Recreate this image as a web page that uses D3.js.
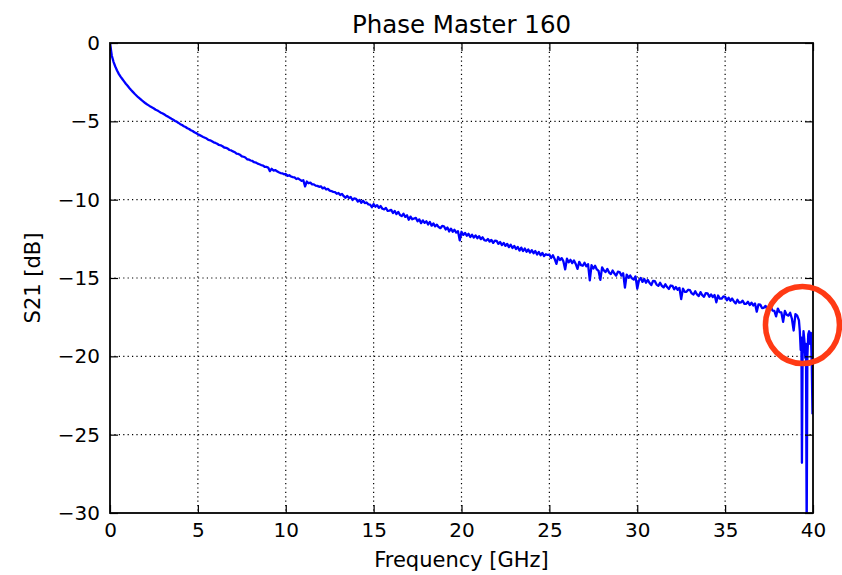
<!DOCTYPE html>
<html>
<head>
<meta charset="utf-8">
<script src="https://cdn.jsdelivr.net/npm/d3@7"></script>
<style>
  html, body { margin: 0; padding: 0; background: #fff; }
  svg { display: block; font-family: "DejaVu Sans", sans-serif; }
</style>
</head>
<body>
<svg id="chart" width="842" height="575"></svg>
<script>
// Insertion loss sweep of the Phase Master 160 cable, 0–40 GHz
const chartTitle = "Phase Master 160";
const xLabel = "Frequency [GHz]";
const yLabel = "S21 [dB]";
const xTicks = [0, 5, 10, 15, 20, 25, 30, 35, 40];
const yTicks = [0, -5, -10, -15, -20, -25, -30];

// main sweep, 0.0 … 39.2 GHz in 0.1 GHz steps (dB)
const sweepStepGHz = 0.1;
const s21Sweep = [
  0, -0.80, -1.20, -1.50, -1.75, -1.97, -2.15, -2.30, -2.45, -2.60,
  -2.73, -2.87, -3.00, -3.12, -3.24, -3.35, -3.46, -3.55, -3.65, -3.74,
  -3.83, -3.91, -3.98, -4.06, -4.12, -4.18, -4.26, -4.31, -4.38, -4.45,
  -4.50, -4.57, -4.64, -4.70, -4.77, -4.84, -4.90, -4.98, -5.03, -5.10,
  -5.18, -5.24, -5.31, -5.36, -5.44, -5.49, -5.57, -5.62, -5.70, -5.75,
  -5.82, -5.88, -5.94, -6.00, -6.05, -6.10, -6.19, -6.21, -6.27, -6.34,
  -6.38, -6.43, -6.51, -6.53, -6.59, -6.67, -6.69, -6.74, -6.83, -6.86,
  -6.92, -6.97, -7.06, -7.08, -7.14, -7.23, -7.26, -7.31, -7.42, -7.44,
  -7.50, -7.53, -7.61, -7.63, -7.70, -7.74, -7.79, -7.82, -7.90, -7.91,
  -7.95, -8.18, -8.03, -8.14, -8.11, -8.18, -8.25, -8.30, -8.32, -8.38,
  -8.36, -8.48, -8.44, -8.52, -8.56, -8.58, -8.68, -8.64, -8.72, -8.80,
  -8.76, -9.15, -8.84, -8.95, -8.91, -9.02, -9.02, -9.10, -9.12, -9.18,
  -9.15, -9.28, -9.22, -9.35, -9.31, -9.42, -9.45, -9.50, -9.52, -9.62,
  -9.57, -9.70, -9.63, -9.78, -9.88, -9.76, -9.90, -9.83, -10.02, -9.92,
  -9.95, -10.12, -10.02, -10.20, -10.07, -10.22, -10.18, -10.30, -10.32, -10.48,
  -10.28, -10.45, -10.35, -10.52, -10.41, -10.58, -10.62, -10.53, -10.72, -10.70,
  -10.65, -10.85, -10.72, -10.92, -10.78, -10.98, -11.05, -10.90, -11.10, -11.00,
  -11.28, -11.08, -11.25, -11.20, -11.16, -11.38, -11.26, -11.50, -11.32, -11.48,
  -11.38, -11.58, -11.42, -11.66, -11.52, -11.70, -11.60, -11.75, -11.82, -11.68,
  -11.70, -11.90, -11.78, -12.03, -11.85, -12.05, -11.92, -12.10, -12.01, -12.60,
  -12.05, -12.25, -12.12, -12.30, -12.18, -12.38, -12.24, -12.42, -12.28, -12.46,
  -12.33, -12.52, -12.40, -12.58, -12.62, -12.51, -12.68, -12.57, -12.76, -12.62,
  -12.63, -12.82, -12.70, -12.90, -12.76, -12.95, -12.82, -13.03, -12.88, -13.08,
  -12.95, -13.15, -13.02, -13.25, -13.06, -13.28, -13.12, -13.32, -13.18, -13.38,
  -13.22, -13.42, -13.28, -13.50, -13.34, -13.55, -13.40, -13.60, -13.48, -13.53,
  -13.50, -13.72, -13.55, -13.78, -14.10, -13.66, -13.85, -13.73, -13.94, -14.45,
  -13.77, -14.00, -13.84, -14.05, -13.88, -14.10, -14.42, -13.97, -14.18, -14.22,
  -14.03, -14.25, -14.12, -15.15, -14.18, -14.40, -14.22, -14.45, -14.55, -15.12,
  -14.32, -14.52, -14.62, -14.42, -14.65, -14.75, -14.52, -14.72, -14.85, -14.60,
  -14.62, -14.85, -14.70, -15.62, -14.78, -14.98, -14.84, -15.02, -15.10, -14.90,
  -15.68, -15.15, -15.00, -15.25, -15.06, -15.30, -15.12, -15.32, -15.45, -15.18,
  -15.20, -15.42, -15.50, -15.30, -15.50, -15.60, -15.40, -15.58, -15.70, -15.48,
  -15.50, -15.72, -15.58, -15.75, -15.63, -16.35, -15.68, -15.88, -15.88, -15.75,
  -15.78, -15.98, -16.05, -15.85, -16.05, -16.15, -15.90, -16.10, -16.20, -15.96,
  -15.98, -16.20, -16.05, -16.22, -16.09, -16.55, -16.12, -16.32, -16.32, -16.18,
  -16.20, -16.42, -16.26, -16.45, -16.31, -16.50, -16.62, -16.39, -16.58, -16.55,
  -16.45, -16.65, -16.65, -16.52, -16.72, -16.58, -16.75, -16.63, -17.15, -16.68,
  -16.70, -16.92, -16.90, -16.78, -17.00, -17.05, -16.86, -17.08, -17.10, -17.45,
  -16.95, -17.18, -17.20, -17.80, -17.10, -17.35, -17.40, -17.22, -17.60, -18.35,
  -17.30, -17.40, -17.70
];

// resonances near the band edge
const edgeFreqGHz = [39.25, 39.30, 39.34, 39.37, 39.41, 39.46, 39.51, 39.56, 39.60, 39.64, 39.68, 39.73, 39.78, 39.83, 39.88, 39.93, 39.97];
const edgeS21 =     [-18.40, -19.60, -18.80, -26.80, -19.80, -18.40, -19.00, -20.10, -19.20, -31.50, -20.00, -18.60, -18.40, -19.20, -18.50, -20.50, -23.70];

const points = s21Sweep.map((v, i) => [i * sweepStepGHz, v])
  .concat(edgeFreqGHz.map((f, i) => [f, edgeS21[i]]));

const svg = d3.select("#chart");
const margin = { left: 110, right: 29, top: 43, bottom: 62 };
const W = +svg.attr("width"), H = +svg.attr("height");
const x0 = margin.left, x1 = W - margin.right, y0 = margin.top, y1 = H - margin.bottom;

const x = d3.scaleLinear().domain([0, 40]).range([x0, x1]);
const y = d3.scaleLinear().domain([-30, 0]).range([y1, y0]);

const fmt = d => (d < 0 ? "\u2212" + Math.abs(d) : String(d));

svg.append("defs").append("clipPath").attr("id", "plot-clip")
  .append("rect").attr("x", x0).attr("y", y0).attr("width", x1 - x0).attr("height", y1 - y0);

// dotted grid
const grid = svg.append("g").attr("stroke", "#000").attr("stroke-width", 1.2)
  .attr("stroke-dasharray", "1.2,3.2").attr("fill", "none");
xTicks.slice(1, -1).forEach(t => grid.append("line")
  .attr("x1", x(t)).attr("x2", x(t)).attr("y1", y0).attr("y2", y1));
yTicks.slice(1, -1).forEach(t => grid.append("line")
  .attr("x1", x0).attr("x2", x1).attr("y1", y(t)).attr("y2", y(t)));

// trace
const line = d3.line().x(d => x(d[0])).y(d => y(d[1]));
svg.append("path").datum(points)
  .attr("clip-path", "url(#plot-clip)")
  .attr("fill", "none").attr("stroke", "#0000ff").attr("stroke-width", 2.3)
  .attr("stroke-linejoin", "round")
  .attr("d", line);

// axes with inward ticks on all four sides
const tickLen = 8;
const axB = svg.append("g").attr("transform", `translate(0,${y1})`)
  .call(d3.axisBottom(x).tickValues(xTicks).tickFormat(fmt).tickSizeInner(-tickLen).tickSizeOuter(0).tickPadding(10));
const axT = svg.append("g").attr("transform", `translate(0,${y0})`)
  .call(d3.axisTop(x).tickValues(xTicks).tickFormat("").tickSizeInner(-tickLen).tickSizeOuter(0));
const axL = svg.append("g").attr("transform", `translate(${x0},0)`)
  .call(d3.axisLeft(y).tickValues(yTicks).tickFormat(fmt).tickSizeInner(-tickLen).tickSizeOuter(0).tickPadding(10));
const axR = svg.append("g").attr("transform", `translate(${x1},0)`)
  .call(d3.axisRight(y).tickValues(yTicks).tickFormat("").tickSizeInner(-tickLen).tickSizeOuter(0));

[axB, axT, axL, axR].forEach(a => {
  a.select(".domain").remove();
  a.selectAll(".tick line").attr("stroke", "#000").attr("stroke-width", 1.2);
  a.selectAll("text").attr("font-family", "DejaVu Sans").attr("font-size", 20).attr("fill", "#000");
});
axB.selectAll("text").attr("y", 24).attr("dy", 0);

// frame
svg.append("rect").attr("x", x0).attr("y", y0).attr("width", x1 - x0).attr("height", y1 - y0)
  .attr("fill", "none").attr("stroke", "#000").attr("stroke-width", 1.8);

// titles
svg.append("text").attr("x", (x0 + x1) / 2).attr("y", 33).attr("text-anchor", "middle")
  .attr("font-size", 24.5).text(chartTitle);
svg.append("text").attr("x", (x0 + x1) / 2).attr("y", 567).attr("text-anchor", "middle")
  .attr("font-size", 21).text(xLabel);
svg.append("text").attr("transform", `translate(40,${(y0 + y1) / 2}) rotate(-90)`)
  .attr("text-anchor", "middle").attr("font-size", 21).text(yLabel);

// highlight ring around the band-edge resonances
svg.append("ellipse").attr("cx", x(39.4)).attr("cy", y(-18.0)).attr("rx", 37).attr("ry", 38.5)
  .attr("fill", "none").attr("stroke", "#ff3a14").attr("stroke-width", 5.5);
</script>
</body>
</html>
